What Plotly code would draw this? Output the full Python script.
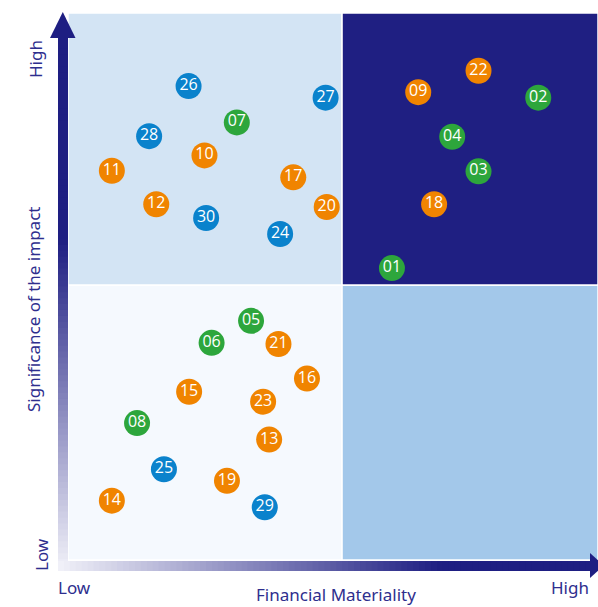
import plotly.graph_objects as go

# ---- data -------------------------------------------------------------
topic_ids = ["01", "02", "03", "04", "05", "06", "07", "08", "09", "10",
             "11", "12", "13", "14", "15", "16", "17", "18", "19", "20",
             "21", "22", "23", "24", "25", "26", "27", "28", "29", "30"]
financial_materiality = [5.91, 8.58, 7.49, 7.01, 3.34, 2.62, 3.08, 1.26, 6.39, 2.49,
                         0.80, 1.61, 3.67, 0.80, 2.21, 4.36, 4.11, 6.68, 2.90, 4.72,
                         3.84, 7.49, 3.56, 3.87, 1.75, 2.20, 4.70, 1.48, 3.59, 2.52]
impact_significance = [5.31, 8.41, 7.07, 7.70, 4.35, 3.95, 7.96, 2.49, 8.51, 7.36,
                       7.08, 6.47, 2.19, 1.08, 3.06, 3.30, 6.96, 6.47, 1.44, 6.42,
                       3.93, 8.90, 2.88, 5.93, 1.65, 8.62, 8.41, 7.71, 0.96, 6.22]
topic_group = ["G", "G", "G", "G", "G", "G", "G", "G", "E", "E",
               "E", "E", "E", "E", "E", "E", "E", "E", "E", "E",
               "E", "E", "E", "B", "B", "B", "B", "B", "B", "B"]
group_colors = {"E": "#F08400", "B": "#0A82CC", "G": "#2DA63C"}

x_axis_title = "Financial Materiality"
y_axis_title = "Significance of the impact"
low_label, high_label = "Low", "High"

# ---- geometry ---------------------------------------------------------
W, H = 598, 607
L, R, T, B = 68, 0, 13, 607 - 560
X_MAX, Y_MAX, SPLIT = 9.67, 9.95, 5.0
PW, PH = W - L - R, H - T - B


def px(x):  # screen pixel x -> paper
    return (x - L) / PW


def py(y):  # screen pixel y -> paper
    return (H - B - y) / PH


NAVY = "#1E1E82"
TXT = "#2E2E8E"

fig = go.Figure()

shapes = []
quads = [
    (0, SPLIT, SPLIT, Y_MAX, "#D3E4F4"),
    (SPLIT, X_MAX, SPLIT, Y_MAX, "#1F1F82"),
    (0, SPLIT, 0, SPLIT, "#F5F9FE"),
    (SPLIT, X_MAX, 0, SPLIT, "#A3C8EA"),
]
for x0, x1, y0, y1, c in quads:
    shapes.append(dict(type="rect", xref="x", yref="y", x0=x0, x1=x1, y0=y0, y1=y1,
                       fillcolor=c, line=dict(color="white", width=1.5), layer="below"))


def mix(t):
    c0 = (0xF2, 0xF2, 0xF9)
    c1 = (0x1E, 0x1E, 0x82)
    t = max(0.0, min(1.0, t))
    return "rgb(%d,%d,%d)" % tuple(round(a + (b - a) * t) for a, b in zip(c0, c1))


n = 90
# y bar (bottom light -> top dark)
y_bot, y_top = 571, 37
for i in range(n):
    a = y_bot - (y_bot - y_top) * i / n
    b = y_bot - (y_bot - y_top) * (i + 1) / n - 1.2
    t = ((y_bot - (a + b) / 2) / (y_bot - y_top)) / 0.62
    shapes.append(dict(type="rect", xref="paper", yref="paper", x0=px(58), x1=px(68),
                       y0=py(a), y1=py(max(b, y_top)), fillcolor=mix(t), line=dict(width=0), layer="above"))
shapes.append(dict(type="path", xref="paper", yref="paper",
                   path="M %f %f L %f %f L %f %f Z" % (px(50), py(38), px(75.5), py(38), px(62.8), py(12)),
                   fillcolor=NAVY, line=dict(width=0), layer="above"))

# x bar (left light -> right dark)
x_l, x_r = 58, 591
for i in range(n):
    a = x_l + (x_r - x_l) * i / n
    b = x_l + (x_r - x_l) * (i + 1) / n + 1.2
    t = (((a + b) / 2 - x_l) / (x_r - x_l)) / 0.72
    shapes.append(dict(type="rect", xref="paper", yref="paper", x0=px(a), x1=px(min(b, x_r)),
                       y0=py(571), y1=py(561), fillcolor=mix(t), line=dict(width=0), layer="above"))
shapes.append(dict(type="path", xref="paper", yref="paper",
                   path="M %f %f L %f %f L %f %f Z" % (px(590), py(553), px(590), py(578), px(604), py(565.5)),
                   fillcolor=NAVY, line=dict(width=0), layer="above"))

for g in ["E", "B", "G"]:
    idx = [i for i, v in enumerate(topic_group) if v == g]
    fig.add_trace(go.Scatter(
        x=[financial_materiality[i] for i in idx],
        y=[impact_significance[i] for i in idx],
        text=[topic_ids[i] for i in idx],
        mode="markers+text",
        textposition="middle center",
        marker=dict(size=26, color=group_colors[g], line=dict(width=0)),
        textfont=dict(color="white", size=16, family="Open Sans"),
        showlegend=False, hoverinfo="text", cliponaxis=False,
    ))

FONT = "Noto Sans"
ann = [
    dict(text=y_axis_title, x=px(33), y=py(310), textangle=-90, size=17),
    dict(text=high_label, x=px(35), y=py(59), textangle=-90, size=17),
    dict(text=low_label, x=px(41), y=py(555), textangle=-90, size=17),
    dict(text=low_label, x=px(74), y=py(587), textangle=0, size=17),
    dict(text=high_label, x=px(570), y=py(587), textangle=0, size=17),
    dict(text=x_axis_title, x=px(336), y=py(594.5), textangle=0, size=17),
]
annotations = [dict(text=a["text"], x=a["x"], y=a["y"], xref="paper", yref="paper",
                    xanchor="center", yanchor="middle", showarrow=False, textangle=a["textangle"],
                    font=dict(family=FONT, size=a["size"], color=TXT)) for a in ann]

fig.update_layout(
    width=W, height=H,
    margin=dict(l=L, r=R, t=T, b=B, pad=0),
    paper_bgcolor="white", plot_bgcolor="white",
    xaxis=dict(range=[0, X_MAX], visible=False, fixedrange=True),
    yaxis=dict(range=[0, Y_MAX], visible=False, fixedrange=True),
    shapes=shapes, annotations=annotations,
    hovermode=False,
)

fig.write_html(
    "out.html",
    config={"displayModeBar": False},
    post_script="document.body.style.margin='0';document.body.style.overflow='hidden';",
)
